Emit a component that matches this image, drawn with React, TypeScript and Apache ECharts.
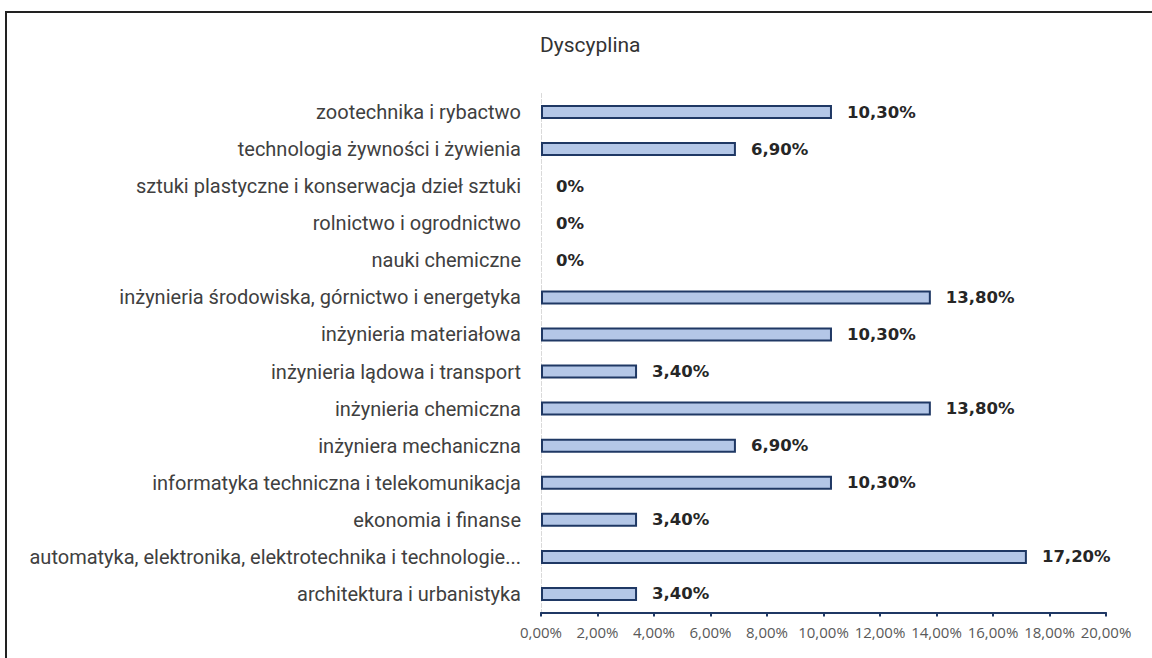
import React, { useEffect, useRef } from "react";
import * as echarts from "echarts";

const categories = [
  "zootechnika i rybactwo",
  "technologia żywności i żywienia",
  "sztuki plastyczne i konserwacja dzieł sztuki",
  "rolnictwo i ogrodnictwo",
  "nauki chemiczne",
  "inżynieria środowiska, górnictwo i energetyka",
  "inżynieria materiałowa",
  "inżynieria lądowa i transport",
  "inżynieria chemiczna",
  "inżyniera mechaniczna",
  "informatyka techniczna i telekomunikacja",
  "ekonomia i finanse",
  "automatyka, elektronika, elektrotechnika i technologie...",
  "architektura i urbanistyka",
];

const values = [10.3, 6.9, 0, 0, 0, 13.8, 10.3, 3.4, 13.8, 6.9, 10.3, 3.4, 17.2, 3.4];

const xTicks = { min: 0, max: 20, interval: 2 };

const title = "Dyscyplina";

const fmtPct = (v: number) => v.toFixed(2).replace(".", ",") + "%";

export default function App() {
  const ref = useRef<HTMLDivElement>(null);
  useEffect(() => {
    if (!ref.current) return;
    const chart = echarts.init(ref.current, undefined, { renderer: "svg" });
    chart.setOption({
      animation: false,
      backgroundColor: "#ffffff",
      title: {
        text: title,
        left: 535,
        top: 29,
        textStyle: {
          fontFamily: "Roboto",
          fontSize: 21,
          fontWeight: "normal",
          color: "#333333",
        },
      },
      graphic: [
        {
          type: "rect",
          shape: { x: 6, y: 12, width: 1300, height: 800 },
          style: { fill: "none", stroke: "#222222", lineWidth: 2 },
          silent: true,
        },
      ],
      grid: { left: 541, right: 46, top: 93.5, bottom: 45.5, containLabel: false },
      xAxis: {
        type: "value",
        min: xTicks.min,
        max: xTicks.max,
        interval: xTicks.interval,
        axisLine: { show: true, lineStyle: { color: "#1f3864", width: 2 } },
        axisTick: { show: true, length: 4, lineStyle: { color: "#1f3864", width: 2 } },
        splitLine: { show: false },
        axisLabel: {
          formatter: (v: number) => fmtPct(v),
          fontFamily: "Open Sans",
          fontSize: 15,
          color: "#595959",
          margin: 12,
        },
      },
      yAxis: {
        type: "category",
        inverse: true,
        data: categories,
        axisLine: { show: true, lineStyle: { color: "#d9d9d9", width: 1, type: "dashed" } },
        axisTick: { show: false },
        axisLabel: {
          fontFamily: "Roboto",
          fontSize: 20,
          color: "#404040",
          margin: 20,
        },
      },
      series: [
        {
          type: "bar",
          barWidth: 14,
          data: values.map((v) => ({
            value: v,
            itemStyle:
              v === 0
                ? { color: "#b4c7e7", borderWidth: 0 }
                : { color: "#b4c7e7", borderColor: "#1f3864", borderWidth: 2 },
          })),
          label: {
            show: true,
            position: "right",
            distance: 15,
            formatter: (p: any) => (p.value === 0 ? "0%" : fmtPct(p.value)),
            fontFamily: "DejaVu Sans",
            fontSize: 16.5,
            fontWeight: "bold",
            color: "#262626",
          },
        },
      ],
    });
    return () => chart.dispose();
  }, []);
  return (
    <div
      ref={ref}
      style={{ position: "fixed", left: 0, top: 0, width: 1152, height: 658 }}
    />
  );
}
